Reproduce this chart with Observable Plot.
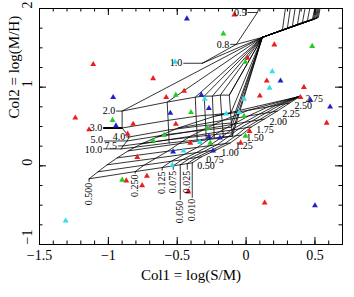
<!DOCTYPE html>
<html><head><meta charset="utf-8">
<script src="https://cdn.jsdelivr.net/npm/d3@7"></script>
<script src="https://cdn.jsdelivr.net/npm/@observablehq/plot@0.6"></script>
<style>body{margin:0;background:#fff}</style>
</head><body><div id="chart"></div>
<script>
// ---------- axis ticks ----------
const xMajorTicks = [-1.5, -1, -0.5, 0, 0.5];
const yMajorTicks = [-1, 0, 1, 2];

// ---------- scatter points (triangles) ----------
const redX = [-1.11,-0.675,-1.24,-1.14,-0.82,-0.86,-0.58,-0.51,-0.085,0.205,0.01,0.15,0.42,0.10,-0.45,0.395,0.585,0.025,-0.04,-0.405,-0.79,-0.87,-0.72,-0.755,-0.42,0.135];
const redY = [1.29,1.11,0.61,0.46,0.53,0.405,0.87,0.53,1.92,1.54,1.37,1.08,1.0,0.89,0.95,0.87,0.545,0.44,0.29,0.29,0.11,-0.19,-0.13,-0.25,-0.33,-0.47];
const greenX = [-0.97,-0.675,-0.595,-0.51,-0.165,0.48,-0.005,-0.40,-0.015,-0.28,-0.005,-0.26,-0.90];
const greenY = [0.58,0.32,0.39,0.90,1.68,1.52,1.32,0.68,0.63,0.48,0.38,0.29,-0.18];
const blueX = [-0.965,-0.945,-0.55,-0.43,0.25,-0.325,0.467,0.61,-0.27,-0.27,-0.19,-0.53,-0.24,0.50];
const blueY = [0.87,0.51,0.67,1.87,1.08,0.90,0.835,0.75,0.73,0.37,0.355,0.18,0.19,-0.505];
const cyanX = [-0.515,0.19,0.17,-0.30,-0.015,-0.05,-0.145,-0.335,-0.535,-0.455,-1.31];
const cyanY = [1.32,1.20,0.99,0.85,0.85,0.68,0.66,0.30,0.01,0.19,-0.70];

// ---------- model grid A (rows: q, columns: Z) ----------
const gridAQ = ["0.500","0.250","0.125","0.075","0.050","0.025","0.010"];
const gridAZ = ["0.50","0.75","1.00","1.25","1.50","1.75","2.00","2.25","2.50","2.75"];
const gridAX = [
 [-1.140,-1.075,-1.009,-0.936,-0.856,-0.762,-0.645,-0.493,-0.224,0.365],
 [-0.805,-0.740,-0.655,-0.569,-0.489,-0.404,-0.298,-0.171,0.017,0.379],
 [-0.609,-0.544,-0.447,-0.354,-0.274,-0.195,-0.093,0.018,0.158,0.386],
 [-0.529,-0.464,-0.363,-0.266,-0.186,-0.109,-0.011,0.095,0.216,0.389],
 [-0.478,-0.413,-0.309,-0.211,-0.131,-0.056,0.042,0.143,0.251,0.391],
 [-0.427,-0.362,-0.255,-0.155,-0.075,-0.001,0.095,0.192,0.288,0.393],
 [-0.391,-0.325,-0.216,-0.115,-0.035,0.038,0.133,0.227,0.315,0.395]
];
const gridAY = [
 [-0.165,-0.076,0.013,0.101,0.190,0.278,0.367,0.481,0.633,0.873],
 [-0.073,0.009,0.097,0.186,0.281,0.375,0.468,0.577,0.706,0.878],
 [-0.022,0.058,0.147,0.235,0.333,0.432,0.529,0.634,0.749,0.882],
 [0.001,0.078,0.167,0.256,0.354,0.454,0.553,0.657,0.767,0.884],
 [0.014,0.091,0.180,0.268,0.368,0.468,0.568,0.671,0.778,0.885],
 [0.028,0.105,0.194,0.282,0.382,0.484,0.584,0.686,0.790,0.886],
 [0.038,0.114,0.203,0.291,0.392,0.494,0.595,0.696,0.797,0.886]
];

// ---------- model grid B (rows: P, columns: R) ----------
const gridBP = ["2.0","3.0","4.0","5.0","7.5","10.0"];
const gridBX = [
 [-0.900,-0.573,-0.369,-0.304,-0.245,-0.187,-0.122],
 [-0.900,-0.566,-0.363,-0.297,-0.239,-0.178,-0.112],
 [-0.849,-0.563,-0.359,-0.293,-0.235,-0.172,-0.107],
 [-0.864,-0.561,-0.357,-0.292,-0.234,-0.170,-0.105],
 [-0.893,-0.560,-0.356,-0.291,-0.232,-0.167,-0.102],
 [-0.907,-0.558,-0.355,-0.289,-0.231,-0.165,-0.100]
];
const gridBY = [
 [0.696,0.810,0.873,0.886,0.886,0.899,0.899],
 [0.481,0.578,0.630,0.643,0.648,0.661,0.667],
 [0.367,0.456,0.501,0.514,0.523,0.535,0.544],
 [0.316,0.401,0.444,0.457,0.467,0.480,0.490],
 [0.253,0.332,0.372,0.385,0.396,0.409,0.420],
 [0.215,0.291,0.329,0.342,0.354,0.367,0.380]
];
const knotX = 0.118, knotY = 1.633;
const bandX = [0.264,0.300,0.336,0.373,0.409,0.445,0.482];
const bandY = [1.727,1.751,1.773,1.797,1.820,1.844,1.867];
const bandTopX = [0.293,0.329,0.365,0.402,0.438,0.474,0.511];
const pEndX = [0.489,0.496,0.504,0.511,0.518,0.525];
const pEndY = [1.861,1.866,1.871,1.876,1.881,1.886];
const pTopX = [0.511,0.518,0.526,0.533,0.540,0.547];
const topY = 2.1;
const edgeLabels = ["1.0","0.8","0.5"];
const edgeX = [-0.318,-0.071,0.082,0.111];
const edgeY = [1.304,1.544,1.949,2.101];

// ---------- layout / style ----------
const W = 354, H = 297;
const M = {top: 8, right: 12, bottom: 53, left: 39};
const xDomain = [-1.5, 0.7], yDomain = [-1, 2];
const plotW = W - M.left - M.right, plotH = H - M.top - M.bottom;
const pxX = (xDomain[1] - xDomain[0]) / plotW;
const pxY = (yDomain[1] - yDomain[0]) / plotH;
const bLabelGap = [7, 20, 4, 24, 6, 19];
const bLabelShift = [0, 0, 0, -1, 0, 1];
const bLabelStroke = [0.8, 2, 0.8, 0.8, 0.8, 0.8];
const aLabelDrop = [3, 2, 3, 4, 35, 6, 35];
const eLabelGap = [20, 7, 11];
const serif = "Liberation Serif, Times New Roman, serif";
const gridFont = 10;

// ---------- build tables ----------
const pts = (xs, ys) => xs.map((x, i) => ({x, y: ys[i]}));
const aLines = [];
gridAQ.forEach((q, i) => gridAZ.forEach((z, j) => aLines.push({id: "q" + i, x: gridAX[i][j], y: gridAY[i][j]})));
gridAZ.forEach((z, j) => gridAQ.forEach((q, i) => aLines.push({id: "z" + j, x: gridAX[i][j], y: gridAY[i][j]})));

const bLines = [];
gridBP.forEach((p, k) => {
  gridBX[k].forEach((x, j) => bLines.push({id: "p" + k, x, y: gridBY[k][j]}));
  bLines.push({id: "p" + k, x: knotX, y: knotY});
  bLines.push({id: "p" + k, x: pEndX[k], y: pEndY[k]});
  bLines.push({id: "p" + k, x: pTopX[k], y: topY});
});
gridBX[0].forEach((_, j) => {
  for (let k = gridBP.length - 1; k >= 0; k--) bLines.push({id: "r" + j, x: gridBX[k][j], y: gridBY[k][j]});
  bLines.push({id: "r" + j, x: knotX, y: knotY});
  bLines.push({id: "r" + j, x: bandX[j], y: bandY[j]});
  bLines.push({id: "r" + j, x: bandTopX[j], y: topY});
});
edgeX.forEach((x, i) => bLines.push({id: "edge", x, y: edgeY[i]}));
[0, 1].forEach(i => { bLines.push({id: "e" + i, x: edgeX[i], y: edgeY[i]}); bLines.push({id: "e" + i, x: knotX, y: knotY}); });

const zLabels = gridAZ.map((t, j) => ({t, x: gridAX[6][j], y: gridAY[6][j]}));
const qLabels = gridAQ.map((t, i) => ({t, x: gridAX[i][0], y0: gridAY[i][0], y1: gridAY[i][0] - aLabelDrop[i] * pxY}));
const pLabels = gridBP.map((t, k) => ({t, x0: gridBX[k][0], y: gridBY[k][0], ty: gridBY[k][0] - bLabelShift[k] * pxY, x1: gridBX[k][0] - bLabelGap[k] * pxX, sw: bLabelStroke[k]}));
const eLabels = edgeLabels.map((t, i) => ({t, x0: edgeX[i], y: edgeY[i], x1: edgeX[i] - eLabelGap[i] * pxX}));

const fmt = d => d < 0 ? "\u2212" + Math.abs(d) : String(d);
const xMinor = d3.range(-15, 8).map(d => d / 10);
const yMinor = d3.range(-4, 9).map(d => d / 4);

const chart = Plot.plot({
  width: W, height: H,
  marginTop: M.top, marginRight: M.right, marginBottom: M.bottom, marginLeft: M.left,
  x: {domain: xDomain, axis: null},
  y: {domain: yDomain, axis: null},
  style: {fontFamily: serif, background: "white", color: "black"},
  marks: [
    Plot.line(aLines, {x: "x", y: "y", z: "id", stroke: "black", strokeWidth: 0.8, clip: true}),
    Plot.line(bLines, {x: "x", y: "y", z: "id", stroke: "black", strokeWidth: 0.8, clip: true}),
    Plot.link(qLabels, {x1: "x", x2: "x", y1: "y0", y2: "y1", stroke: "black", strokeWidth: 0.8}),
    Plot.link(pLabels, {x1: d => d.x1 + pxX, x2: "x0", y1: "y", y2: "y", stroke: "black", strokeWidth: "sw"}),
    Plot.link(eLabels, {x1: d => d.x1 + pxX, x2: "x0", y1: "y", y2: "y", stroke: "black", strokeWidth: 0.8}),
    Plot.dot(pts(redX, redY), {x: "x", y: "y", symbol: "triangle", r: 2.2, fill: "#ee1c1c", stroke: "none"}),
    Plot.dot(pts(greenX, greenY), {x: "x", y: "y", symbol: "triangle", r: 2.2, fill: "#22cc22", stroke: "none"}),
    Plot.dot(pts(blueX, blueY), {x: "x", y: "y", symbol: "triangle", r: 2.2, fill: "#2020c8", stroke: "none"}),
    Plot.dot(pts(cyanX, cyanY), {x: "x", y: "y", symbol: "triangle", r: 2.2, fill: "#33dde6", stroke: "none"}),
    Plot.text(zLabels, {x: "x", y: "y", text: "t", dx: 5, dy: 3, textAnchor: "start", fontSize: gridFont}),
    Plot.text(qLabels, {x: "x", y: d => d.y1 - pxY, text: "t", rotate: -90, textAnchor: "end", fontSize: gridFont}),
    Plot.text(pLabels, {x: "x1", y: "ty", text: "t", textAnchor: "end", fontSize: gridFont}),
    Plot.text(eLabels, {x: "x1", y: "y", text: "t", textAnchor: "end", fontSize: gridFont}),
    Plot.frame({stroke: "black"}),
    Plot.ruleX(xMinor, {x: d => d, insetTop: plotH - 3.5, stroke: "black"}),
    Plot.ruleX(xMinor, {x: d => d, insetBottom: plotH - 3.5, stroke: "black"}),
    Plot.ruleX(xMajorTicks, {x: d => d, insetTop: plotH - 7, stroke: "black"}),
    Plot.ruleX(xMajorTicks, {x: d => d, insetBottom: plotH - 7, stroke: "black"}),
    Plot.ruleY(yMinor, {y: d => d, insetRight: plotW - 3.5, stroke: "black"}),
    Plot.ruleY(yMinor, {y: d => d, insetLeft: plotW - 3.5, stroke: "black"}),
    Plot.ruleY(yMajorTicks, {y: d => d, insetRight: plotW - 7, stroke: "black"}),
    Plot.ruleY(yMajorTicks, {y: d => d, insetLeft: plotW - 7, stroke: "black"}),
    Plot.text(xMajorTicks, {x: d => d, frameAnchor: "bottom", dy: 15, text: fmt, fontSize: 14}),
    Plot.text(yMajorTicks, {y: d => d, frameAnchor: "left", dx: -12, rotate: -90, text: fmt, fontSize: 14}),
    Plot.text(["Col1 = log(S/M)"], {frameAnchor: "bottom", dy: 35, text: d => d, fontSize: 15}),
    Plot.text(["Col2 = log(M/H)"], {frameAnchor: "left", dx: -25, dy: -8, rotate: -90, text: d => d, fontSize: 15})
  ]
});
document.getElementById("chart").appendChild(chart);
</script>
</body></html>
